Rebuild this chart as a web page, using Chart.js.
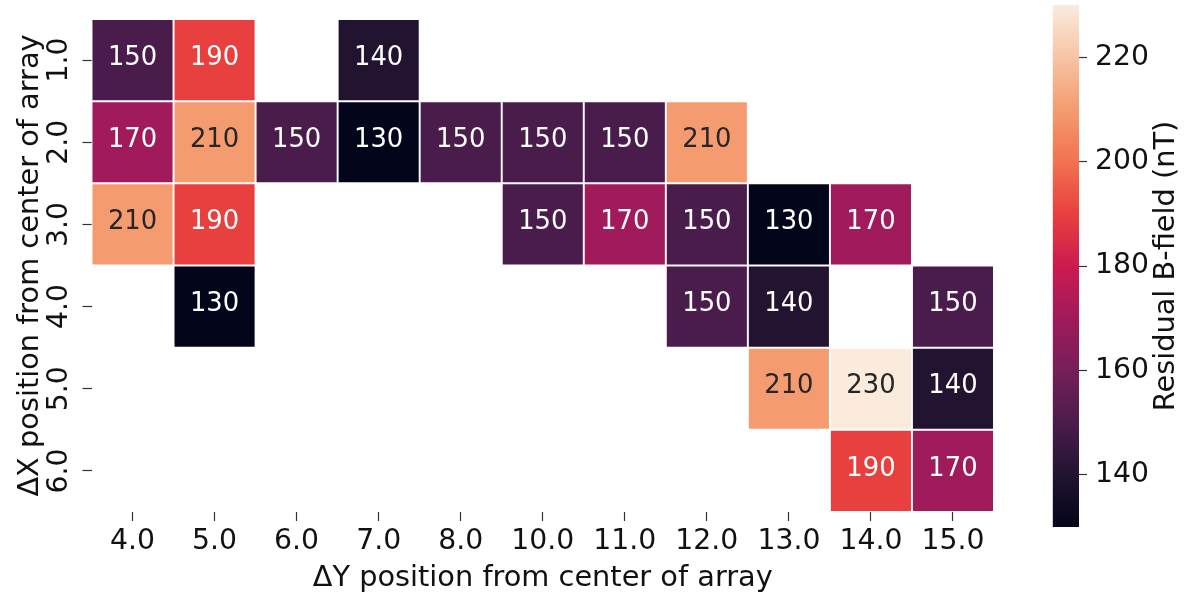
<!DOCTYPE html>
<html>
<head>
<meta charset="utf-8">
<script src="https://cdn.jsdelivr.net/npm/chart.js@4.4.1/dist/chart.umd.min.js"></script>
<style>
  html, body { margin: 0; padding: 0; background: #fff; }
  #wrap { position: relative; width: 1188px; height: 598px; }
  #heat { position: absolute; left: 0; top: 0; }
  #bar { position: absolute; left: 1000px; top: 0; }
</style>
</head>
<body>
<div id="wrap">
  <canvas id="heat" width="1188" height="598"></canvas>
  <canvas id="bar" width="188" height="598"></canvas>
</div>
<script>
// columns = ΔY, rows = ΔX
const dyLabels = ["4.0", "5.0", "6.0", "7.0", "8.0", "10.0", "11.0", "12.0", "13.0", "14.0", "15.0"];
const dxRows = [1, 2, 3, 4, 5, 6];

// residual field (nT), one array per ΔX row, null = no measurement
const row1 = [150, 190, null, 140, null, null, null, null, null, null, null];
const row2 = [170, 210, 150, 130, 150, 150, 150, 210, null, null, null];
const row3 = [210, 190, null, null, null, 150, 170, 150, 130, 170, null];
const row4 = [null, 130, null, null, null, null, null, 150, 140, null, 150];
const row5 = [null, null, null, null, null, null, null, null, 210, 230, 140];
const row6 = [null, null, null, null, null, null, null, null, null, 190, 170];
const rows = [row1, row2, row3, row4, row5, row6];

const vmin = 130;
const vmax = 230;
const cbTicks = [140, 160, 180, 200, 220];

// rocket colormap, sampled
const rocket = [
  [0.0, "#03051a"], [0.1, "#221331"], [0.2, "#4a1c4b"], [0.3, "#761f58"],
  [0.4, "#a11a5b"], [0.5, "#cb1b4f"], [0.6, "#e8403f"], [0.7, "#f3724f"],
  [0.8, "#f49c70"], [0.9, "#f7c4a6"], [1.0, "#faebdd"]
];

function hexRgb(h) {
  return [1, 3, 5].map((i) => parseInt(h.slice(i, i + 2), 16));
}

function cmap(v) {
  const t = Math.max(0, Math.min(1, (v - vmin) / (vmax - vmin)));
  for (let i = 1; i < rocket.length; i++) {
    if (t <= rocket[i][0]) {
      const [t0, c0] = rocket[i - 1];
      const [t1, c1] = rocket[i];
      const f = (t - t0) / (t1 - t0);
      const a = hexRgb(c0), b = hexRgb(c1);
      return a.map((x, k) => Math.round(x + (b[k] - x) * f));
    }
  }
  return hexRgb(rocket[rocket.length - 1][1]);
}

function lum(rgb) {
  const c = rgb.map((x) => {
    x /= 255;
    return x <= 0.03928 ? x / 12.92 : Math.pow((x + 0.055) / 1.055, 2.4);
  });
  return 0.2126 * c[0] + 0.7152 * c[1] + 0.0722 * c[2];
}

const FONT = "DejaVu Sans";
const TXT = "#111";
const TICK_SIZE = 28.3;
const TITLE_SIZE = 28.8;
Chart.defaults.font.family = FONT;
Chart.defaults.color = TXT;

//write the number in each cell
const cellLabels = {
  id: "cellLabels",
  afterDatasetsDraw(chart) {
    const ctx = chart.ctx;
    ctx.save();
    ctx.font = `25.8px "${FONT}"`;
    ctx.textAlign = "center";
    ctx.textBaseline = "middle";
    rows.forEach((vals, i) => {
      chart.getDatasetMeta(i).data.forEach((bar, j) => {
        const v = vals[j];
        if (v == null) return;
        ctx.fillStyle = lum(cmap(v)) > 0.408 ? "#262626" : "#ffffff";
        ctx.fillText(String(v), bar.x, (bar.y + bar.base) / 2 - 2);
      });
    });
    ctx.restore();
  },
};

new Chart(document.getElementById("heat"), {
  type: "bar",
  data: {
    labels: dyLabels,
    // each row is a set of floating bars one unit tall
    datasets: rows.map((vals, i) => ({
      label: "row " + dxRows[i],
      data: vals.map((v) => (v == null ? null : [dxRows[i] - 0.5, dxRows[i] + 0.5])),
      backgroundColor: vals.map((v) => (v == null ? "rgba(0,0,0,0)" : `rgb(${cmap(v).join(",")})`)),
      borderColor: "#ffffff",
      borderWidth: 1.3,
      borderSkipped: false,
      grouped: false,
      barPercentage: 1,
      categoryPercentage: 1,
    })),
  },
  options: {
    responsive: false,
    animation: false,
    layout: { padding: { left: 0, top: 19, right: 194, bottom: 0 } },
    plugins: { legend: { display: false }, tooltip: { enabled: false } },
    scales: {
      x: {
        offset: true,
        border: { display: false },
        grid: { offset: false, drawOnChartArea: false, tickLength: 9, tickColor: "#333", tickWidth: 1.2 },
        ticks: { font: { size: TICK_SIZE }, padding: 4, maxRotation: 0 },
        title: { display: true, text: "ΔY position from center of array", font: { size: TITLE_SIZE }, padding: { top: 0, bottom: 2 } },
        afterFit: (s) => { s.height = 86; },
      },
      y: {
        min: 0.5,
        max: 6.5,
        reverse: true,
        border: { display: false },
        grid: { drawOnChartArea: false, tickLength: 9, tickColor: "#333", tickWidth: 1.2 },
        afterBuildTicks: (s) => { s.ticks = dxRows.map((v) => ({ value: v })); },
        ticks: {
          font: { size: TICK_SIZE },
          padding: 0,
          minRotation: 90,
          maxRotation: 90,
          crossAlign: "center",
          callback: (v) => Number(v).toFixed(1),
        },
        title: { display: true, text: "ΔX position from center of array", font: { size: TITLE_SIZE }, padding: { top: 13, bottom: 0 } },
        afterFit: (s) => { s.width = 91.5; },
      },
    },
  },
  plugins: [cellLabels],
});

// colorbar label reads bottom to top
const cbTitle = {
  id: "cbTitle",
  afterDraw(chart) {
    const ctx = chart.ctx;
    const a = chart.chartArea;
    ctx.save();
    ctx.font = `${TITLE_SIZE}px "${FONT}"`;
    ctx.fillStyle = TXT;
    ctx.textAlign = "center";
    ctx.textBaseline = "middle";
    ctx.translate(167, (a.top + a.bottom) / 2);
    ctx.rotate(-Math.PI / 2);
    ctx.fillText("Residual B-field (nT)", 0, 0);
    ctx.restore();
  },
};

new Chart(document.getElementById("bar"), {
  type: "bar",
  data: {
    labels: ["cb"],
    datasets: [{
      data: [[vmin, vmax]],
      backgroundColor: (c) => {
        const a = c.chart.chartArea;
        if (!a) return "#888";
        const g = c.chart.ctx.createLinearGradient(0, a.bottom, 0, a.top);
        rocket.forEach(([t, col]) => g.addColorStop(t, col));
        return g;
      },
      borderWidth: 0,
      barPercentage: 1,
      categoryPercentage: 1,
    }],
  },
  options: {
    responsive: false,
    animation: false,
    layout: { padding: { left: 52.7, top: 5, right: 0, bottom: 71 } },
    plugins: { legend: { display: false }, tooltip: { enabled: false } },
    scales: {
      x: { display: false },
      y: {
        position: "right",
        min: vmin,
        max: vmax,
        border: { display: false },
        grid: { drawOnChartArea: false, tickLength: 8, tickColor: "#333", tickWidth: 1.2 },
        afterBuildTicks: (s) => { s.ticks = cbTicks.map((v) => ({ value: v })); },
        ticks: { font: { size: TICK_SIZE }, padding: 8 },
        afterFit: (s) => {
          s.width = 109;
          // no extra room for label overhang, bar runs top to bottom
          s.paddingTop = 0;
          s.paddingBottom = 0;
        },
      },
    },
  },
  plugins: [cbTitle],
});
</script>
</body>
</html>
